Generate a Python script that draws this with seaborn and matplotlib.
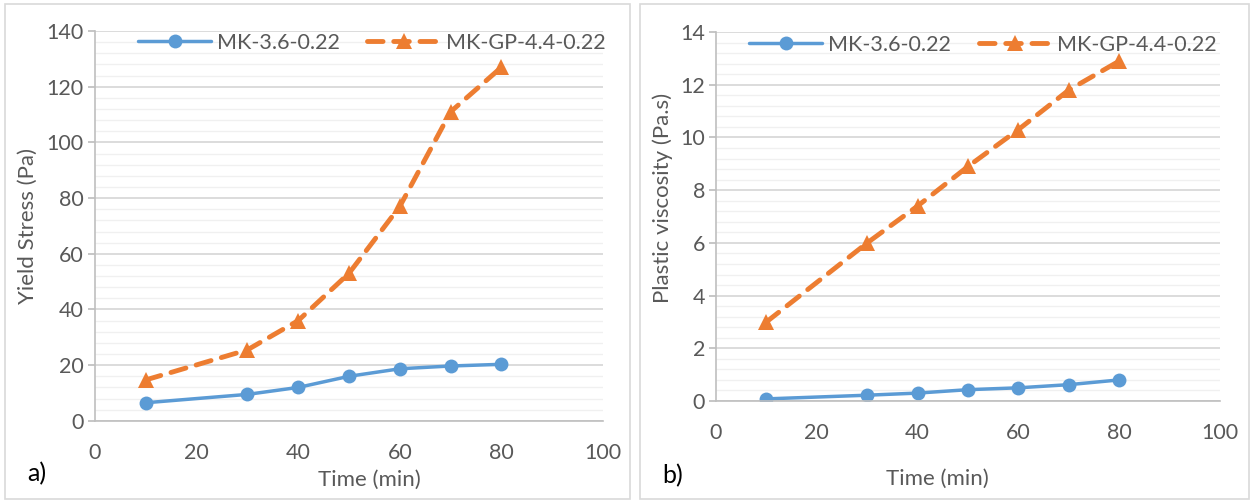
import matplotlib
matplotlib.use("Agg")
import matplotlib.pyplot as plt
import seaborn as sns
import numpy as np
from matplotlib.patches import Rectangle
from matplotlib.ticker import MultipleLocator

time_min = [10, 30, 40, 50, 60, 70, 80]
labels = ["MK-3.6-0.22", "MK-GP-4.4-0.22"]

yield_mk = [6.5, 9.5, 12.0, 16.0, 18.7, 19.7, 20.3]
yield_gp = [14.7, 25.5, 36.0, 53.0, 77.0, 111.0, 127.0]

visc_mk = [0.08, 0.22, 0.30, 0.43, 0.50, 0.62, 0.80]
visc_gp = [3.0, 6.0, 7.4, 8.9, 10.3, 11.8, 12.9]

blue = "#5B9BD5"
orange = "#ED7D31"
grey = "#595959"

sns.set_theme(style="white")
plt.rcParams["font.family"] = ["Lato", "DejaVu Sans"]

fig = plt.figure(figsize=(12.5, 5.01), dpi=100)

# panel frames
fig.patches.append(Rectangle((0.004, 0.004), 0.5, 0.988, transform=fig.transFigure,
                             fill=False, edgecolor="#D9D9D9", linewidth=1.2))
fig.patches.append(Rectangle((0.512, 0.004), 0.487, 0.988, transform=fig.transFigure,
                             fill=False, edgecolor="#D9D9D9", linewidth=1.2))

ax1 = fig.add_axes([0.076, 0.160, 0.4064, 0.778])
ax2 = fig.add_axes([0.5728, 0.1996, 0.4032, 0.7364])


def draw(ax, mk, gp, ymax, major, minor, ylabel, leg_x):
    sns.lineplot(x=time_min, y=mk, ax=ax, color=blue, linewidth=2.5, marker="o",
                 markersize=10, markeredgewidth=0, label=labels[0])
    sns.lineplot(x=time_min, y=gp, ax=ax, color=orange, linewidth=3.5, marker="^",
                 markersize=11, markeredgewidth=0, linestyle=(0, (3.2, 2.2)),
                 dash_capstyle="round", label=labels[1])
    ax.set_xlim(0, 100)
    ax.set_ylim(0, ymax)
    ax.xaxis.set_major_locator(MultipleLocator(20))
    ax.yaxis.set_major_locator(MultipleLocator(major))
    ax.yaxis.set_minor_locator(MultipleLocator(minor))
    ax.grid(axis="y", which="major", color="#D9D9D9", linewidth=1.3)
    ax.grid(axis="y", which="minor", color="#F0F0F0", linewidth=1.0)
    ax.grid(axis="x", visible=False)
    ax.set_axisbelow(True)
    for s in ["top", "right"]:
        ax.spines[s].set_visible(False)
    ax.spines["left"].set_color("#BFBFBF")
    ax.spines["bottom"].set_color("#BFBFBF")
    ax.spines["left"].set_linewidth(1.2)
    ax.spines["bottom"].set_linewidth(1.2)
    ax.tick_params(axis="y", which="major", left=True, length=5, color="#BFBFBF",
                   labelsize=15.5, labelcolor=grey, pad=3)
    ax.tick_params(axis="x", bottom=False, labelsize=15.5, labelcolor=grey, pad=10)
    ax.set_ylabel(ylabel, fontsize=16, color=grey, labelpad=2)
    ax.set_xlabel("Time (min)", fontsize=16, color=grey, labelpad=4)
    leg = ax.legend(loc="upper center", bbox_to_anchor=(leg_x, 1.045), ncol=2, frameon=False,
                    fontsize=15.5, handlelength=3.4, columnspacing=1.3, handletextpad=0.25,
                    labelcolor=grey)
    return leg


draw(ax1, yield_mk, yield_gp, 140, 20, 4, "Yield Stress (Pa)", 0.545)
draw(ax2, visc_mk, visc_gp, 14, 2, 0.4, "Plastic viscosity (Pa.s)", 0.53)

ax1.xaxis.set_label_coords(0.54, -0.125)
ax2.xaxis.set_label_coords(0.44, -0.185)
ax1.yaxis.set_label_coords(-0.112, 0.5)
ax2.yaxis.set_label_coords(-0.085, 0.55)

fig.text(0.022, 0.04, "a)", fontsize=18, color="black")
fig.text(0.530, 0.035, "b)", fontsize=18, color="black")

fig.savefig("out.png", dpi=100)
